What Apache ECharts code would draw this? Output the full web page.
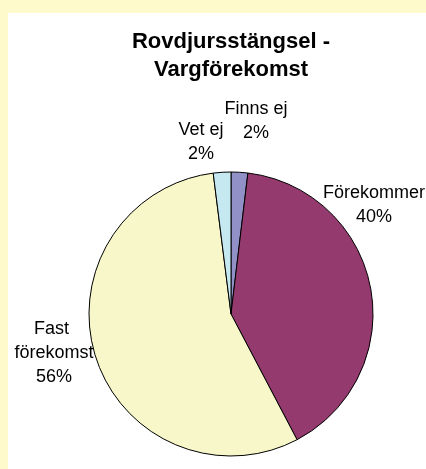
<!DOCTYPE html>
<html>
<head>
<meta charset="utf-8">
<script src="https://cdn.jsdelivr.net/npm/echarts@6/dist/echarts.min.js"></script>
<style>
  html, body { margin: 0; padding: 0; }
  body { width: 426px; height: 469px; background: #FFFACC; position: relative; overflow: hidden; }
  #chart { position: absolute; left: 8px; top: 13px; width: 418px; height: 456px; background: #ffffff; }
</style>
</head>
<body>
<div id="chart"></div>
<script>
// kategorier och andelar (procent)
const categories = ['Finns ej', 'Förekommer', 'Fast förekomst', 'Vet ej']
const values = [1.9, 40.4, 55.7, 2.0]
const colors = ['#9191C8', '#953A6E', '#F7F7C9', '#C6E9F1']

// etiketternas placering (px i diagramytan)
const labelPos = [
  [248, 108.5],
  [366, 192.5],
  [46, 340.5],
  [193, 129.5]
]

const font = "'Liberation Sans', Arial, sans-serif"

const option = {
  animation: false,
  title: {
    text: 'Rovdjursstängsel -\nVargförekomst',
    left: 223,
    top: 15,
    padding: 0,
    textAlign: 'center',
    textStyle: {
      fontFamily: font,
      fontSize: 22,
      fontWeight: 'bold',
      color: '#000000',
      lineHeight: 28
    }
  },
  series: [
    {
      type: 'pie',
      center: [223, 301],
      radius: 142,
      startAngle: 90,
      clockwise: true,
      percentPrecision: 0,
      avoidLabelOverlap: false,
      itemStyle: {
        borderColor: '#000000',
        borderWidth: 1
      },
      label: {
        show: true,
        position: 'outside',
        formatter: '{b}\n{d}%',
        fontFamily: font,
        fontSize: 18,
        lineHeight: 24,
        color: '#000000',
        align: 'center'
      },
      labelLine: { show: false },
      labelLayout: function (params) {
        const p = labelPos[params.dataIndex]
        return { x: p[0], y: p[1], align: 'center', verticalAlign: 'middle' }
      },
      emphasis: { disabled: true },
      data: categories.map(function (name, i) {
        const item = { name: name, value: values[i], itemStyle: { color: colors[i] } }
        if (name === 'Fast förekomst') {
          item.label = { width: 90, overflow: 'break' }
        }
        return item
      })
    }
  ]
}

const myChart = echarts.init(document.getElementById('chart'))
myChart.setOption(option)
</script>
</body>
</html>
